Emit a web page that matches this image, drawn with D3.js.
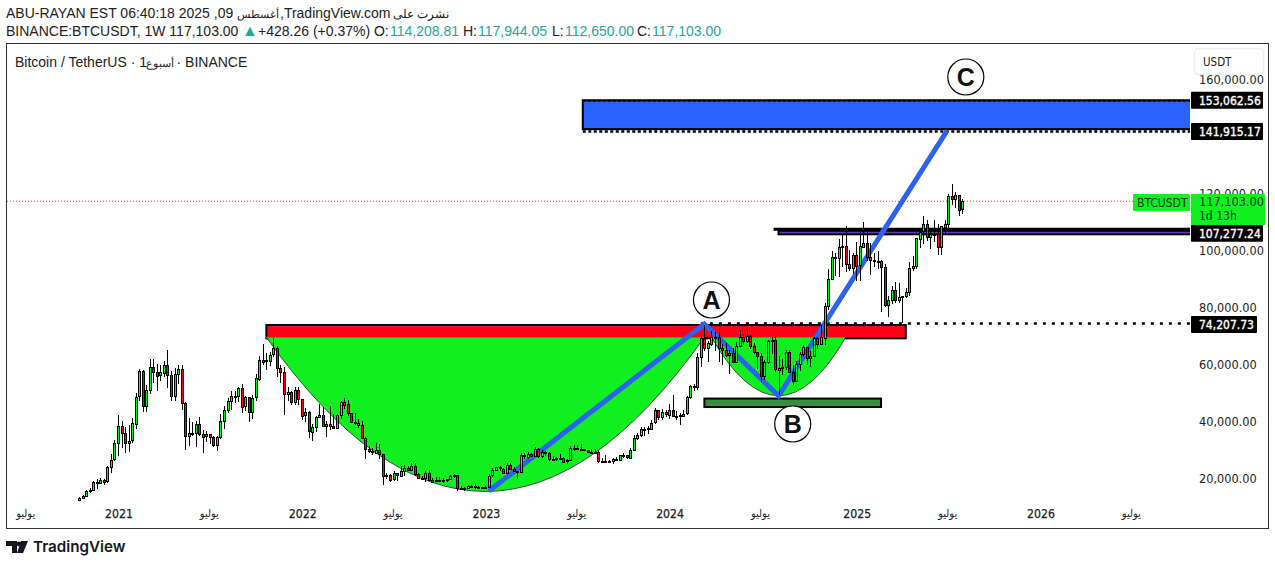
<!DOCTYPE html>
<html>
<head>
<meta charset="utf-8">
<script src="https://cdn.jsdelivr.net/npm/d3@7"></script>
<style>
  html, body { margin: 0; padding: 0; background: #fff; }
  svg { display: block; }
  text { font-family: "Liberation Sans", Arial, sans-serif; }
  .axis text { font-family: "DejaVu Sans Condensed", "DejaVu Sans", sans-serif; fill: #222; }
</style>
</head>
<body>
<div id="chart"></div>
<script>
// weekly bars, first one is the week of 2020-10-19
const firstWeek = new Date(2020, 9, 19);
const firstOpen = 12300;

const closes = [
  13031, 13761, 15479, 15955, 18680, 18185, 19359, 18803, 23860, 26443, 32178,
  38150, 35828, 32259, 33100, 39186, 48580, 57408, 45240, 50971, 59027, 57351, 55851, 57059, 59769, 56200, 49004, 56600, 58232, 46456,
  34770, 35663, 35796, 39020, 35600, 34700, 35287, 34240, 31518, 34261, 39845, 43800, 47081, 48800, 48890, 51753, 45160, 48300, 43160,
  48200, 54950, 61500, 60860, 61300, 63270, 65500, 58600, 57270, 49400, 50100, 46680, 50800, 47700,
  41860, 43080, 36270, 37900, 41570, 42200, 38340, 39100, 38420, 37780, 42200, 46800, 45800, 42750, 39700, 39450, 38600, 34060, 30080,
  29450, 29020, 29900, 28400, 20570, 21030, 19300, 21580, 20830, 22580, 23640, 22990, 24300, 21500, 20030, 20000, 21830, 19410, 18800,
  19310, 19440, 19260, 19570, 20625, 20920, 16330, 16280, 16430, 17120, 17100, 16780, 16840, 16540,
  16950, 20870, 22700, 23740, 23320, 21860, 24630, 23170, 22350, 22150, 27970, 27490, 28450, 27920, 30300, 27800, 29230, 28900, 26770,
  26750, 26850, 27100, 25840, 26340, 30540, 30470, 30170, 30300, 29900, 29230, 29050, 29290, 26050, 26010, 25800, 25830, 26530, 26250,
  27970, 27920, 27150, 29990, 34080, 35010, 37050, 37360, 37450, 39460, 43780, 41360, 43010, 42150,
  43920, 41730, 41550, 42030, 42580, 48300, 52140, 51730, 62400, 68950, 65300, 67210, 69610, 69360, 65660, 64940, 63100, 63900, 60800,
  66270, 69300, 67760, 69650, 66220, 64250, 62770, 55850, 60800, 68160, 68250, 58160, 58700, 58900, 64200, 57300, 54150, 59990, 63350,
  65880, 62070, 62850, 69000, 67000, 69300, 80400, 89850, 97700, 97450, 101170, 101400, 95100, 93700, 98300,
  94500, 101300, 102600, 97700, 96500, 96100, 96250, 94200, 80700, 82600, 86050, 82400, 83500, 83700, 85200, 93700, 94300, 104100,
  106400, 109000, 104600, 105700, 105500, 100900, 108300, 109200, 119000, 117900, 119400, 114208.81, 117103
];
const highs = [
  13350, 14100, 15960, 16500, 18950, 19500, 19900, 19600, 24300, 28400, 33300,
  41950, 40100, 37850, 38550, 40950, 49700, 58350, 58000, 52640, 61800, 61700, 60000, 59800, 61200, 64850, 57500, 58450, 59500, 59600,
  46700, 40900, 39500, 40000, 41300, 36700, 36600, 35100, 34700, 34800, 42600, 45300, 48100, 50500, 50500, 51900, 52900, 48850, 48000,
  49200, 56500, 62950, 67000, 63700, 64300, 69000, 66400, 59500, 59000, 51950, 50500, 51850, 52100,
  47550, 44500, 43500, 38900, 41800, 45850, 44750, 39850, 45400, 42600, 42400, 46900, 48200, 47200, 42400, 42950, 40800, 40000, 34250,
  31400, 30650, 32400, 31800, 28550, 21900, 21550, 22500, 21900, 24300, 24650, 24200, 25200, 25200, 21800, 20600, 22400, 22800, 19950,
  20400, 20450, 19950, 19700, 21000, 21450, 21050, 17200, 16800, 17400, 17400, 18400, 17100, 16950,
  17050, 21250, 23350, 23950, 24250, 23400, 25250, 25250, 23900, 22600, 28850, 28900, 29200, 28800, 31000, 30550, 30000, 29450, 29000,
  27650, 27400, 28450, 27400, 26800, 31400, 31450, 31550, 31800, 30350, 30000, 30050, 30250, 29700, 26850, 28150, 26450, 26900, 27500,
  28050, 28600, 27900, 30400, 35200, 35950, 38000, 37950, 38400, 40250, 44700, 43450, 44300, 43800,
  45900, 49000, 43550, 42850, 43850, 48600, 52800, 52950, 64000, 70000, 73780, 68100, 71550, 71300, 72800, 66900, 67200, 64750, 65500,
  67700, 71950, 70600, 72000, 70200, 67300, 63350, 63850, 61400, 68350, 69400, 70000, 62700, 61800, 65000, 64950, 59800, 61000, 64100,
  66500, 65550, 64500, 69500, 69500, 73650, 81500, 93450, 99800, 98950, 104000, 105200, 108350, 99900, 98900,
  102700, 106400, 109900, 106450, 102500, 98800, 99500, 96500, 95000, 84000, 87450, 88750, 88500, 83950, 86500, 95800, 97900, 104300,
  106650, 111980, 110700, 106800, 110500, 108950, 108500, 110500, 119500, 123200, 120250, 119000, 117944.05
];
const lows = [
  12250, 12750, 13200, 14850, 15950, 16300, 18000, 17600, 18300, 21900, 26000,
  27700, 30400, 28850, 29200, 32300, 37350, 47000, 43000, 43000, 49300, 53300, 50400, 54000, 55400, 51500, 47000, 46900, 53000, 43800,
  30000, 31100, 34800, 31000, 34800, 28800, 32700, 32100, 31000, 29300, 33800, 37300, 42800, 43950, 46400, 46500, 42800, 43350, 39600,
  40700, 47100, 53900, 59500, 57800, 59400, 62300, 55600, 53300, 42000, 46900, 45500, 45550, 45700,
  40500, 39650, 34000, 32900, 36250, 41600, 38000, 34300, 37000, 37150, 37550, 40800, 44200, 41900, 39200, 38550, 37600, 33700, 26700,
  28650, 28000, 29300, 26550, 17600, 19600, 18600, 18800, 18900, 20750, 20700, 22400, 22650, 20750, 19550, 19550, 18550, 19300, 18150,
  18500, 19100, 18200, 18700, 19250, 20000, 15600, 15800, 15450, 16000, 16750, 16250, 16300, 16300,
  16500, 17300, 20400, 22300, 22500, 21450, 21350, 22700, 21950, 19550, 22000, 26600, 26500, 27200, 27800, 27100, 26950, 27650, 25800,
  26350, 25850, 26500, 25350, 24800, 26250, 29500, 29700, 29950, 29500, 28850, 28600, 28700, 25150, 25350, 25350, 25350, 24900, 26000,
  25950, 27150, 26550, 26950, 29700, 33400, 34550, 34800, 35600, 36850, 39000, 40200, 40500, 41400,
  40750, 41400, 40300, 38500, 41800, 42250, 47700, 50500, 50900, 59000, 64550, 60750, 66400, 64500, 60650, 59600, 62400, 56500, 60200,
  60750, 66600, 66650, 67500, 65100, 63400, 58400, 53500, 54250, 59900, 63400, 57100, 49000, 56100, 57800, 57200, 52500, 53600, 57500,
  62700, 59800, 58900, 62450, 65100, 66800, 66800, 78800, 89400, 90800, 90500, 94150, 92150, 92500, 91500,
  89250, 89250, 100550, 96150, 91250, 94100, 93400, 78250, 80000, 76600, 81150, 81550, 81300, 74500, 83100, 83900, 92800, 93350,
  100700, 102000, 103100, 100400, 102650, 98200, 98200, 105100, 107450, 115700, 114700, 112000, 112650
];

const priceTicks = [20000, 40000, 60000, 80000, 100000, 120000, 160000];
const yearTicks = ["2021-01-04", "2022-01-03", "2023-01-02", "2024-01-01", "2025-01-06", "2026-01-05"];
const julyTicks = ["2020-07-06", "2021-07-05", "2022-07-04", "2023-07-03", "2024-07-01", "2025-07-07", "2026-07-06"];

// drawings on the chart, as [date, price]
const blueLine = [["2023-01-09", 15440], ["2024-03-11", 74000], ["2024-08-05", 48800], ["2025-07-05", 141915]];
const bigCup = [["2021-10-25", 69370], ["2023-01-02", -38800], ["2024-03-11", 69370]];
const smallCup = [["2024-03-25", 69370], ["2024-08-05", 28400], ["2024-12-16", 69370]];
const redBox = ["2021-10-25", "2025-04-14", 74207.73, 69000];
const darkGreenBox = ["2024-03-11", "2025-02-24", 48400, 44900];
const blueBox = ["2023-07-14", null, 153062.56, 142400];
const purpleBox = ["2024-08-05", null, 107277.24, 105500];
const circleLabels = [["A", "2024-03-25", 82450], ["B", "2024-09-02", 38950], ["C", "2025-08-11", 160700]];
const levelTags = [153062.56, 141915.17, 107277.24, 74207.73];
const lastPrice = 117103;

const parseDate = d3.timeParse("%Y-%m-%d");
const weeks = closes.map((c, i) => d3.timeWeek.offset(firstWeek, i));
const opens = closes.map((c, i) => i ? closes[i - 1] : firstOpen);

const width = 1275, height = 565;
const plotLeft = 7, plotRight = 1190, plotTop = 44, plotBottom = 528;
const green = "#11f01f", red = "#ff0019", teal = "#26a69a";

const svg = d3.select("#chart").append("svg").attr("width", width).attr("height", height);

const x = d3.scaleTime()
  .domain([parseDate("2021-01-04"), parseDate("2026-01-05")])
  .range([118, 1040]);
const y = d3.scaleLinear().domain([0, 160000]).range([535, 79]);

const px = d => x(parseDate(d));

svg.append("clipPath").attr("id", "plot")
  .append("rect").attr("x", plotLeft).attr("y", plotTop)
  .attr("width", plotRight - plotLeft).attr("height", plotBottom - plotTop);

const plot = svg.append("g").attr("clip-path", "url(#plot)");

// price line
plot.append("line")
  .attr("x1", plotLeft).attr("x2", plotRight)
  .attr("y1", y(lastPrice)).attr("y2", y(lastPrice))
  .attr("stroke", "#f23645").attr("stroke-dasharray", "1 2");

function drawBox(b, fill) {
  const left = px(b[0]);
  const right = b[1] ? px(b[1]) : plotRight + 2;
  plot.append("rect")
    .attr("x", left).attr("y", y(b[2]) + 1.5)
    .attr("width", right - left).attr("height", y(b[3]) - y(b[2]) - 1.5)
    .attr("fill", fill).attr("stroke", "#000").attr("stroke-width", 2);
}
drawBox(blueBox, "#2962ff");
drawBox(purpleBox, "#673ab7");
drawBox(redBox, red);
drawBox(darkGreenBox, "#388e3c");

// cups go over the red box and hide its bottom border
function drawCup(pts) {
  const [a, c, b] = pts.map(p => [px(p[0]), y(p[1])]);
  const path = d3.path();
  path.moveTo(a[0], a[1]);
  path.quadraticCurveTo(c[0], c[1], b[0], b[1]);
  plot.append("path").attr("d", path.toString() + "Z").attr("fill", green);
  plot.append("path").attr("d", path.toString()).attr("fill", "none").attr("stroke", "#3a4a3a").attr("stroke-width", 1);
}
drawCup(bigCup);
drawCup(smallCup);

// dotted levels
plot.append("line")
  .attr("x1", px(blueBox[0])).attr("x2", plotRight)
  .attr("y1", y(153062.56) + 2).attr("y2", y(153062.56) + 2)
  .attr("stroke", "#000").attr("stroke-width", 2).attr("stroke-dasharray", "3 2");
plot.append("line")
  .attr("x1", px(blueBox[0])).attr("x2", plotRight)
  .attr("y1", y(141915.17) + 1).attr("y2", y(141915.17) + 1)
  .attr("stroke", "#000").attr("stroke-width", 2.5).attr("stroke-dasharray", "3 2.5");
plot.append("line")
  .attr("x1", px("2024-03-04")).attr("x2", plotRight)
  .attr("y1", y(74207.73)).attr("y2", y(74207.73))
  .attr("stroke", "#000").attr("stroke-width", 2.5).attr("stroke-dasharray", "3 6");

// line above the purple band starts a little earlier
plot.append("line")
  .attr("x1", px(purpleBox[0]) - 5).attr("x2", plotRight)
  .attr("y1", y(purpleBox[2])).attr("y2", y(purpleBox[2]))
  .attr("stroke", "#000").attr("stroke-width", 3);

// blue zigzag
plot.append("path")
  .attr("d", d3.line().x(d => px(d[0])).y(d => y(d[1]))(blueLine))
  .attr("fill", "none").attr("stroke", "#2b62f0").attr("stroke-width", 5).attr("stroke-linejoin", "miter");

// candles
const bars = plot.append("g").selectAll("g").data(closes).enter().append("g");
bars.append("line")
  .attr("x1", (d, i) => Math.round(x(weeks[i])) + 0.5)
  .attr("x2", (d, i) => Math.round(x(weeks[i])) + 0.5)
  .attr("y1", (d, i) => y(highs[i]))
  .attr("y2", (d, i) => y(lows[i]))
  .attr("stroke", "#000").attr("shape-rendering", "crispEdges");
bars.append("rect")
  .attr("x", (d, i) => Math.round(x(weeks[i])) - 0.5)
  .attr("width", 2)
  .attr("y", (d, i) => Math.round(y(Math.max(opens[i], d))) + 0.5)
  .attr("height", (d, i) => Math.max(1, Math.round(Math.abs(y(opens[i]) - y(d)))))
  .attr("fill", (d, i) => d >= opens[i] ? green : red)
  .attr("stroke", "#000").attr("shape-rendering", "crispEdges");

// A B C
const circles = svg.selectAll("g.mark").data(circleLabels).enter().append("g").attr("class", "mark")
  .attr("transform", d => `translate(${px(d[1])},${y(d[2])})`);
circles.append("circle").attr("r", 18).attr("fill", "#fff").attr("stroke", "#000").attr("stroke-width", 1.2);
circles.append("text").attr("text-anchor", "middle").attr("dy", "0.36em")
  .attr("font-size", 25).attr("font-weight", "bold").attr("fill", "#111").text(d => d[0]);

// axes
const yAxis = d3.axisRight(y).tickValues(priceTicks).tickSize(0).tickPadding(0)
  .tickFormat(d => d3.format(",.2f")(d));
svg.append("g").attr("class", "axis").attr("transform", "translate(1199,0.5)").call(yAxis)
  .call(g => g.select(".domain").remove())
  .call(g => g.selectAll("text").attr("font-size", 12.6));

const xAxis = d3.axisBottom(x)
  .tickValues(yearTicks.concat(julyTicks).map(parseDate))
  .tickSize(0).tickPadding(0)
  .tickFormat(d => d.getMonth() === 6 ? "يوليو" : d3.timeFormat("%Y")(d3.timeDay.offset(d, 7)));
svg.append("g").attr("class", "axis").attr("transform", "translate(-1,509)").call(xAxis)
  .call(g => g.select(".domain").remove())
  .call(g => g.selectAll("text").attr("x", 1.5).attr("font-size", 12.2).attr("stroke", "#222").attr("stroke-width", 0.25))
  .call(g => g.selectAll("text").filter(d => d.getMonth() === 6).attr("x", 0).attr("font-size", 11).attr("stroke", null));

// level tags on the price scale; the 107k one sits under the last price tag
const tagShift = d => d === 107277.24 ? 4 : d === 153062.56 ? 1.5 : 1;
const tags = svg.selectAll("g.tag").data(levelTags).enter().append("g").attr("class", "tag axis")
  .attr("transform", d => `translate(1191,${y(d) + tagShift(d)})`);
tags.append("rect").attr("y", -8.5).attr("height", 17).attr("rx", 1)
  .attr("width", d => d < 100000 ? 66 : 72).attr("fill", "#000");
tags.append("text").attr("x", 8).attr("dy", "0.36em").attr("font-size", 12)
  .attr("stroke", "#fff").attr("stroke-width", 0.35)
  .style("fill", "#fff").text(d => d3.format(",.2f")(d));

// last price tag
const last = svg.append("g").attr("class", "axis");
last.append("rect").attr("x", 1133).attr("y", 194).attr("width", 57).attr("height", 17).attr("rx", 1).attr("fill", green);
last.append("text").attr("x", 1137).attr("y", 207).attr("font-size", 12).style("fill", "#032").text("BTCUSDT");
last.append("rect").attr("x", 1191).attr("y", 194).attr("width", 74).attr("height", 31).attr("fill", green);
last.append("text").attr("x", 1199).attr("y", 206).attr("font-size", 12.6).style("fill", "#032").text(d3.format(",.2f")(lastPrice));
last.append("text").attr("x", 1199).attr("y", 220).attr("font-size", 12).style("fill", "#032").text("1d 13h");

// USDT button
svg.append("rect").attr("x", 1194.5).attr("y", 48.5).attr("width", 69).attr("height", 26).attr("rx", 4)
  .attr("fill", "#fff").attr("stroke", "#eee").attr("stroke-width", 1.5);
svg.append("text").attr("class", "axis").attr("x", 1203).attr("y", 66).attr("font-size", 11.5).attr("fill", "#222")
  .style("font-family", "'DejaVu Sans Condensed', sans-serif").text("USDT");

// frame
svg.append("rect").attr("x", 6.5).attr("y", 43.5).attr("width", 1262).attr("height", 485)
  .attr("fill", "none").attr("stroke", "#333");

// header
const head = svg.append("g").attr("font-size", 14).attr("fill", "#222");
head.append("text").attr("x", 6).attr("y", 18).text("ABU-RAYAN EST 06:40:18 2025 ,09");
head.append("text").attr("x", 237).attr("y", 18).attr("font-size", 11).text("أغسطس");
head.append("text").attr("x", 280).attr("y", 18).text(",TradingView.com");
head.append("text").attr("x", 393).attr("y", 18).attr("font-size", 12).text("نشرت على");

// second row, placed piece by piece
const rowPieces = [
  ["BINANCE:BTCUSDT, 1W 117,103.00", null, 6, 14],
  ["▲", teal, 242, 16],
  ["+428.26 (+0.37%) O:", null, 258, 14],
  ["114,208.81", teal, 390, 14],
  ["H:", null, 463, 14],
  ["117,944.05", teal, 478, 14],
  ["L:", null, 552, 14],
  ["112,650.00", teal, 565, 14],
  ["C:", null, 637, 14],
  ["117,103.00", teal, 652, 14]
];
head.selectAll("text.row").data(rowPieces).enter().append("text").attr("class", "row")
  .attr("x", d => d[2]).attr("y", 36).attr("font-size", d => d[3])
  .attr("fill", d => d[1] || "#222").text(d => d[0]);

head.append("text").attr("x", 15).attr("y", 67).text("Bitcoin / TetherUS · 1");
head.append("text").attr("x", 145.5).attr("y", 67).attr("font-size", 11).text("أسبوع");
head.append("text").attr("x", 176.5).attr("y", 67).text("· BINANCE");

// TradingView logo
const logo = svg.append("g").attr("fill", "#131722");
logo.append("path").attr("d", "M6 541h11v12h-5v-7H6zM21 541h7l-5 12h-6z");
logo.append("circle").attr("cx", 19).attr("cy", 544).attr("r", 2.4);
logo.append("text").attr("x", 33).attr("y", 552).attr("font-size", 15.2).attr("font-weight", 600)
  .style("font-family", "Inter, sans-serif").text("TradingView");
</script>
</body>
</html>
